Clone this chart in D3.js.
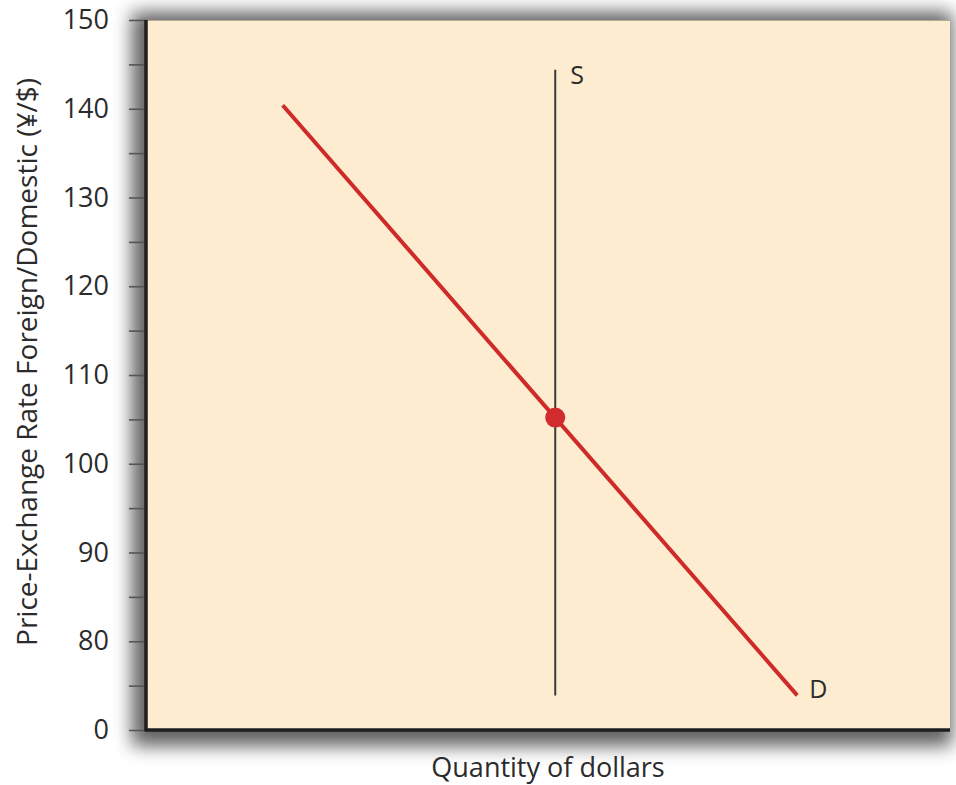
<!DOCTYPE html>
<html>
<head>
<meta charset="utf-8">
<script src="https://cdn.jsdelivr.net/npm/d3@7"></script>
<style>
html,body{margin:0;padding:0;background:#fff;}
svg{display:block;}
text{font-family:"Open Sans","Noto Sans",sans-serif;fill:#2b2b2b;}
</style>
</head>
<body>
<svg id="chart" width="956" height="785"></svg>
<script>
// Y axis ticks (value shown at 70 is labelled "0" – broken axis)
const yTickValues = [70, 75, 80, 85, 90, 95, 100, 105, 110, 115, 120, 125, 130, 135, 140, 145, 150];
const yTickLabels = {70: "0", 80: "80", 90: "90", 100: "100", 110: "110", 120: "120", 130: "130", 140: "140", 150: "150"};
// Demand curve D (quantity, price)
const demandQ = [17, 81];
const demandP = [140.4, 73.9];
// Supply curve S (vertical)
const supplyQ = [50.9, 50.9];
const supplyP = [144.4, 73.9];
// Equilibrium
const eqQ = [50.9];
const eqP = [105.2];
const labels = ["S", "D"];
const xTitle = "Quantity of dollars";
const yTitle = "Price-Exchange Rate Foreign/Domestic (¥/$)";

const svg = d3.select("#chart");
const L = 146, R = 950, T = 20, B = 730;
const x = d3.scaleLinear().domain([0, 100]).range([L, R]);
const y = d3.scaleLinear().domain([70, 150]).range([B, T]);

const defs = svg.append("defs");
const f = defs.append("filter").attr("id", "sh").attr("x", "-10%").attr("y", "-10%").attr("width", "120%").attr("height", "120%");
f.append("feGaussianBlur").attr("stdDeviation", 9);

// shadow
svg.append("rect").attr("x", L - 14).attr("y", T - 8).attr("width", R - L + 16).attr("height", B - T + 24)
  .attr("fill", "#444").attr("opacity", 0.85).attr("filter", "url(#sh)");
// plot background
svg.append("rect").attr("x", L).attr("y", T).attr("width", R - L).attr("height", B - T)
  .attr("fill", "#FDECD0");
svg.append("line").attr("x1", L).attr("x2", R).attr("y1", T + 0.5).attr("y2", T + 0.5)
  .attr("stroke", "#b8aa98").attr("stroke-width", 1);

// Y axis
const yAxis = d3.axisLeft(y).tickValues(yTickValues).tickSize(17).tickPadding(20)
  .tickFormat(d => yTickLabels[d] || "");
const gy = svg.append("g").attr("transform", `translate(${L},0)`).call(yAxis);
gy.attr("font-size", null).attr("font-family", null);
gy.select(".domain").remove();
gy.selectAll(".tick line").attr("stroke", "#555").attr("stroke-width", 1.6);
gy.selectAll(".tick text").style("font-size", "27px").attr("fill", "#2b2b2b");

// axis lines
svg.append("line").attr("x1", L).attr("x2", L).attr("y1", T).attr("y2", B + 1.5)
  .attr("stroke", "#1e1e1e").attr("stroke-width", 3.5);
svg.append("line").attr("x1", L).attr("x2", R).attr("y1", B).attr("y2", B)
  .attr("stroke", "#1e1e1e").attr("stroke-width", 3.5);

// supply line
const line = d3.line().x(d => x(d[0])).y(d => y(d[1]));
svg.append("path").datum(d3.zip(supplyQ, supplyP)).attr("d", line)
  .attr("stroke", "#3a3a3a").attr("stroke-width", 2).attr("fill", "none");
// demand line
svg.append("path").datum(d3.zip(demandQ, demandP)).attr("d", line)
  .attr("stroke", "#cf2a2a").attr("stroke-width", 4).attr("fill", "none");
// equilibrium
svg.selectAll("circle.eq").data(d3.zip(eqQ, eqP)).enter().append("circle")
  .attr("cx", d => x(d[0])).attr("cy", d => y(d[1])).attr("r", 10).attr("fill", "#d22b2f");

// labels
svg.append("text").attr("x", x(supplyQ[0]) + 15).attr("y", y(supplyP[0]) + 14)
  .style("font-size", "25px").text(labels[0]);
svg.append("text").attr("x", x(demandQ[1]) + 12).attr("y", y(demandP[1]) + 3)
  .style("font-size", "25px").text(labels[1]);

// axis titles
svg.append("text").attr("x", 548).attr("y", 777).attr("text-anchor", "middle")
  .style("font-size", "27px").text(xTitle);
svg.append("text").attr("transform", "translate(37,362) rotate(-90)").attr("text-anchor", "middle")
  .style("font-size", "28px").text(yTitle);
</script>
</body>
</html>
